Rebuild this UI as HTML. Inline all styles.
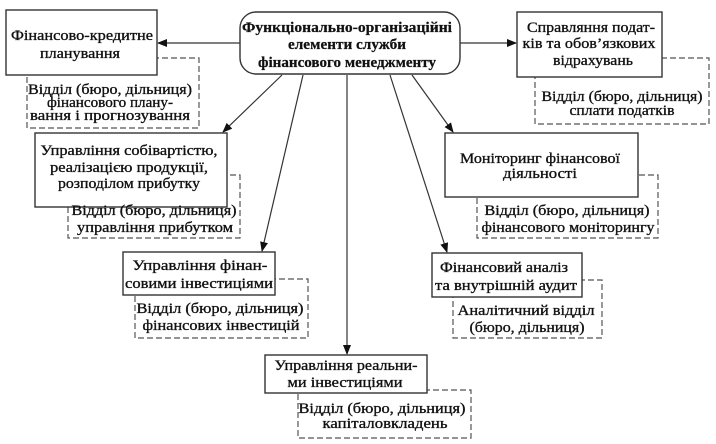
<!DOCTYPE html>
<html><head><meta charset="utf-8"><style>
html,body{margin:0;padding:0;background:#fff;}
svg{display:block;}
text{font-family:"Liberation Serif","DejaVu Serif",serif;font-size:15px;fill:#111;stroke:#111;stroke-width:0.35px;}
.b{font-weight:bold;stroke-width:0.25px;}
.box{fill:#fff;stroke:#333;stroke-width:1.4;}
.dash{fill:none;stroke:#555;stroke-width:1.2;stroke-dasharray:6 3;}
.ln{stroke:#333;stroke-width:1.2;fill:none;}
</style></head><body>
<svg width="716" height="444" viewBox="0 0 716 444" xmlns="http://www.w3.org/2000/svg">
<defs>
<marker id="ar" markerWidth="10" markerHeight="8" refX="9" refY="4" orient="auto" markerUnits="userSpaceOnUse">
<path d="M0,0 L10,4 L0,8 Z" fill="#111"/>
</marker>
</defs>

<!-- connectors -->
<line class="ln" x1="241" y1="43" x2="158" y2="43" marker-end="url(#ar)"/>
<line class="ln" x1="453" y1="43" x2="516" y2="43" marker-end="url(#ar)"/>
<line class="ln" x1="282" y1="75" x2="223" y2="132" marker-end="url(#ar)"/>
<line class="ln" x1="303" y1="75" x2="262" y2="251" marker-end="url(#ar)"/>
<line class="ln" x1="347" y1="75" x2="347" y2="354" marker-end="url(#ar)"/>
<line class="ln" x1="390" y1="75" x2="447" y2="252" marker-end="url(#ar)"/>
<line class="ln" x1="412" y1="75" x2="453" y2="132" marker-end="url(#ar)"/>

<!-- dashed boxes -->
<rect class="dash" x="27" y="58" width="172" height="70"/>
<rect class="dash" x="535" y="58" width="174" height="66"/>
<rect class="dash" x="68" y="175" width="172" height="63"/>
<rect class="dash" x="477" y="175" width="181" height="63"/>
<rect class="dash" x="135" y="279" width="173" height="59"/>
<rect class="dash" x="453" y="280" width="149" height="58"/>
<rect class="dash" x="298" y="390" width="173" height="48"/>

<!-- solid boxes -->
<rect class="box" x="240" y="12" width="220" height="62" rx="16" ry="16"/>
<rect class="box" x="6" y="10" width="151" height="65"/>
<rect class="box" x="517" y="12" width="145" height="65"/>
<rect class="box" x="35" y="133" width="192" height="74"/>
<rect class="box" x="445" y="133" width="193" height="64"/>
<rect class="box" x="123" y="252" width="152" height="43"/>
<rect class="box" x="432" y="253" width="150" height="44"/>
<rect class="box" x="265" y="355" width="162" height="38"/>

<!-- central -->
<text class="b" x="347" y="32" text-anchor="middle" textLength="210" lengthAdjust="spacingAndGlyphs">Функціонально-організаційні</text>
<text class="b" x="347" y="49" text-anchor="middle" textLength="118" lengthAdjust="spacingAndGlyphs">елементи служби</text>
<text class="b" x="347" y="67" text-anchor="middle" textLength="178" lengthAdjust="spacingAndGlyphs">фінансового менеджменту</text>

<!-- box1 -->
<text x="82" y="40" text-anchor="middle" textLength="142" lengthAdjust="spacingAndGlyphs">Фінансово-кредитне</text>
<text x="80" y="58" text-anchor="middle" textLength="80" lengthAdjust="spacingAndGlyphs">планування</text>
<text x="110" y="94" text-anchor="middle" textLength="164" lengthAdjust="spacingAndGlyphs">Відділ (бюро, дільниця)</text>
<text x="110" y="107" text-anchor="middle" textLength="126" lengthAdjust="spacingAndGlyphs">фінансового плану-</text>
<text x="110" y="120" text-anchor="middle" textLength="160" lengthAdjust="spacingAndGlyphs">вання і прогнозування</text>

<!-- box3 -->
<text x="591" y="32" text-anchor="middle" textLength="128" lengthAdjust="spacingAndGlyphs">Справляння подат-</text>
<text x="589" y="48" text-anchor="middle" textLength="133" lengthAdjust="spacingAndGlyphs">ків та обов’язкових</text>
<text x="593" y="65" text-anchor="middle" textLength="80" lengthAdjust="spacingAndGlyphs">відрахувань</text>
<text x="622" y="101" text-anchor="middle" textLength="161" lengthAdjust="spacingAndGlyphs">Відділ (бюро, дільниця)</text>
<text x="622" y="115" text-anchor="middle" textLength="105" lengthAdjust="spacingAndGlyphs">сплати податків</text>

<!-- box4 -->
<text x="129" y="155" text-anchor="middle" textLength="177" lengthAdjust="spacingAndGlyphs">Управління собівартістю,</text>
<text x="129" y="172" text-anchor="middle" textLength="158" lengthAdjust="spacingAndGlyphs">реалізацією продукції,</text>
<text x="129" y="188" text-anchor="middle" textLength="142" lengthAdjust="spacingAndGlyphs">розподілом прибутку</text>
<text x="154" y="215" text-anchor="middle" textLength="165" lengthAdjust="spacingAndGlyphs">Відділ (бюро, дільниця)</text>
<text x="155" y="232" text-anchor="middle" textLength="156" lengthAdjust="spacingAndGlyphs">управління прибутком</text>

<!-- box5 -->
<text x="540" y="163" text-anchor="middle" textLength="160" lengthAdjust="spacingAndGlyphs">Моніторинг фінансової</text>
<text x="540" y="178" text-anchor="middle" textLength="74" lengthAdjust="spacingAndGlyphs">діяльності</text>
<text x="567" y="215" text-anchor="middle" textLength="165" lengthAdjust="spacingAndGlyphs">Відділ (бюро, дільниця)</text>
<text x="568" y="232" text-anchor="middle" textLength="173" lengthAdjust="spacingAndGlyphs">фінансового моніторингу</text>

<!-- box6 -->
<text x="200" y="270" text-anchor="middle" textLength="135" lengthAdjust="spacingAndGlyphs">Управління фінан-</text>
<text x="199" y="288" text-anchor="middle" textLength="148" lengthAdjust="spacingAndGlyphs">совими інвестиціями</text>
<text x="220" y="313" text-anchor="middle" textLength="167" lengthAdjust="spacingAndGlyphs">Відділ (бюро, дільниця)</text>
<text x="221" y="330" text-anchor="middle" textLength="157" lengthAdjust="spacingAndGlyphs">фінансових інвестицій</text>

<!-- box7 -->
<text x="504" y="272" text-anchor="middle" textLength="128" lengthAdjust="spacingAndGlyphs">Фінансовий аналіз</text>
<text x="506" y="290" text-anchor="middle" textLength="142" lengthAdjust="spacingAndGlyphs">та внутрішній аудит</text>
<text x="526" y="315" text-anchor="middle" textLength="137" lengthAdjust="spacingAndGlyphs">Аналітичний відділ</text>
<text x="527" y="332" text-anchor="middle" textLength="115" lengthAdjust="spacingAndGlyphs">(бюро, дільниця)</text>

<!-- box8 -->
<text x="346" y="370" text-anchor="middle" textLength="143" lengthAdjust="spacingAndGlyphs">Управління реальни-</text>
<text x="345" y="387" text-anchor="middle" textLength="115" lengthAdjust="spacingAndGlyphs">ми інвестиціями</text>
<text x="382" y="413" text-anchor="middle" textLength="167" lengthAdjust="spacingAndGlyphs">Відділ (бюро, дільниця)</text>
<text x="385" y="428" text-anchor="middle" textLength="125" lengthAdjust="spacingAndGlyphs">капіталовкладень</text>
</svg>
</body></html>
